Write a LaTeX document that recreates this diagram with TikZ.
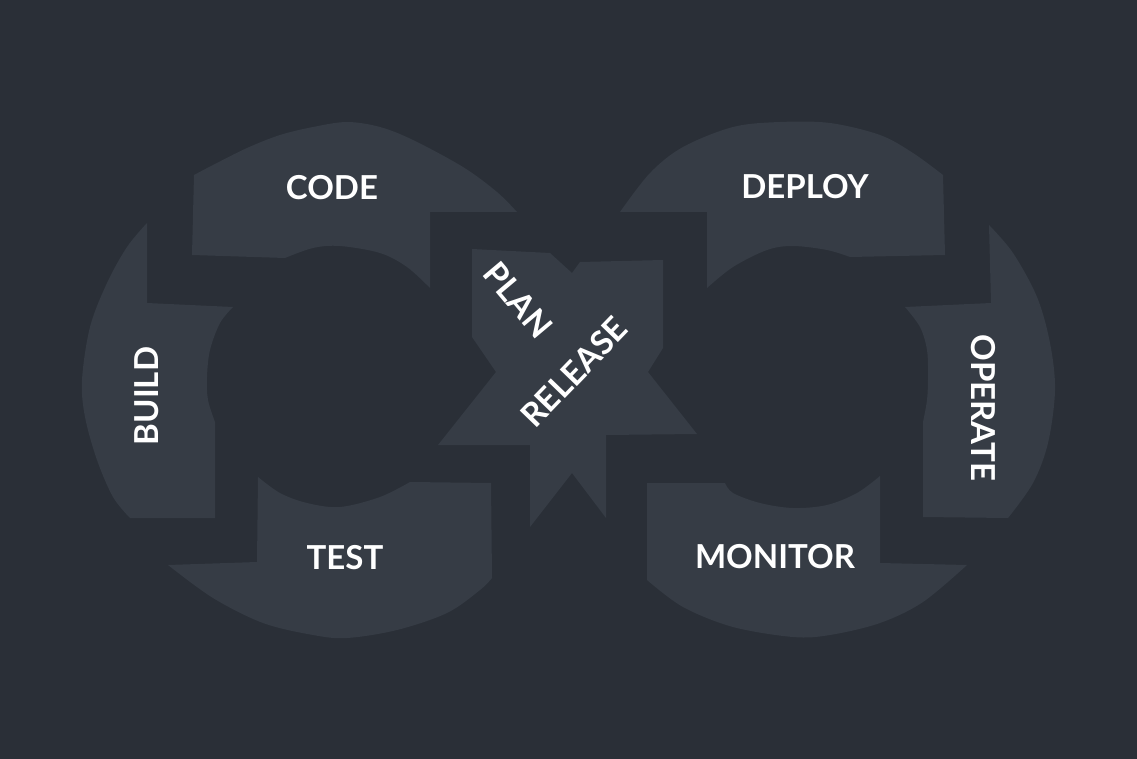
\documentclass[tikz,border=0pt]{standalone}
\usepackage{fontspec}
\setmainfont{Lato}
\definecolor{bgc}{HTML}{2A2F37}
\definecolor{segc}{HTML}{363C45}
\tikzset{
  seg/.style={fill=segc},
  lbl/.style={text=white,inner sep=0pt,font=\fontsize{33}{33}\selectfont\bfseries},
  smoothc/.style={smooth,tension=0.55}
}
\begin{document}
\begin{tikzpicture}[x=1pt,y=-1pt]
\fill[bgc] (0,0) rectangle (1137,759);
\useasboundingbox (0,0) rectangle (1137,759);
% left ring
\fill[seg] (192,255) -- (194,175) -- plot[smoothc] coordinates {(194,175) (213,165) (247,148) (280,135) (313,127) (347,122) (380,127) (413,140) (463,167) (497,192) (517,212)} -- (430,212) -- (430,288) -- plot[smoothc] coordinates {(430,288) (407,267) (380,253) (340,246) (313,248) (285,258)} -- cycle;
\fill[seg] (147,223) -- (147,303) -- (233,307) -- plot[smoothc] coordinates {(233,307) (220,323) (210,350) (207,377) (208,400) (215,422)} -- (215,518) -- (130,518) -- plot[smoothc] coordinates {(130,518) (113,497) (97,460) (85,417) (82,380) (90,327) (107,283) (127,247) (147,223)} -- cycle;
\fill[seg] (258,477) -- (257,562) -- (168,565) -- plot[smoothc] coordinates {(168,565) (213,598) (263,623) (313,635) (347,638) (397,630) (447,613) (480,590) (492,578)} -- (491,483) -- (410,482) -- plot[smoothc] coordinates {(410,482) (380,497) (340,507) (307,503) (280,493) (258,477)} -- cycle;
% right ring
\fill[seg] (620,212) -- (707,212) -- (707,288) -- plot[smoothc] coordinates {(707,288) (733,267) (767,250) (793,246) (827,250) (850,257)} -- (945,255) -- (943,175) -- plot[smoothc] coordinates {(943,175) (913,153) (880,135) (830,123) (780,122) (733,127) (683,147) (650,173) (620,212)} -- cycle;
\fill[seg] (989,225) -- (991,303) -- (905,307) -- plot[smoothc] coordinates {(905,307) (920,327) (927,350) (928,377) (927,400) (923,422)} -- (923,517) -- (1008,518) -- plot[smoothc] coordinates {(1008,518) (1033,483) (1048,443) (1055,390) (1050,343) (1037,297) (1013,253) (989,225)} -- cycle;
\fill[seg] (647,483) -- (647,580) -- plot[smoothc] coordinates {(647,580) (683,607) (733,627) (793,637) (830,635) (880,623) (923,602) (967,565)} -- (880,563) -- (880,476) -- plot[smoothc] coordinates {(880,476) (857,493) (827,505) (793,508) (760,503) (733,493) (725,483)} -- cycle;
% centre
\fill[seg] (472,249) -- (550,253) -- (572,273) -- (580,262) -- (663,260) -- (663,348) -- (648,372) -- (697,434) -- (606,435) -- (606,518) -- (572,473) -- (530,527) -- (530,445) -- (438,445) -- (496,372) -- (472,337) -- cycle;
% labels
\node[lbl] (code) at (332,188) {CODE};
\node[lbl] (deploy) at (805,187) {DEPLOY};
\node[lbl,rotate=90] (build) at (147,396) {BUILD};
\node[lbl,rotate=-90] (operate) at (983,408) {OPERATE};
\node[lbl] (test) at (345,558) {TEST};
\node[lbl] (monitor) at (775,557) {MONITOR};
\node[lbl,rotate=-50] (plan) at (518,300) {PLAN};
\node[lbl,rotate=46] (release) at (574,372) {RELEASE};
\end{tikzpicture}
\end{document}
